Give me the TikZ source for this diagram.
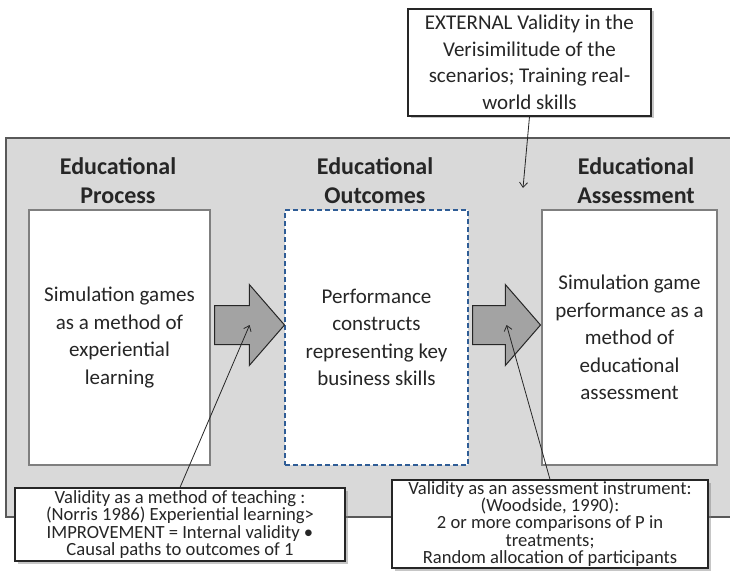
\documentclass[tikz,border=0pt]{standalone}
\usepackage{fontspec}
\setmainfont{Carlito}
\usepackage{xcolor}
\usetikzlibrary{calc, arrows.meta, shapes.arrows, shadows}

\definecolor{panelgray}{HTML}{D9D9D9}
\definecolor{rimgray}{HTML}{595959}
\definecolor{boxgray}{HTML}{7F7F7F}
\definecolor{dashblue}{HTML}{2F5D96}
\definecolor{flowgray}{HTML}{A3A3A3}
\definecolor{inkgray}{HTML}{262626}

\begin{document}
\begin{tikzpicture}[x=1pt, y=-1pt, text=inkgray,
    stage/.style={draw=boxgray, fill=white, line width=1.1pt, minimum height=255pt, align=center,
      font=\fontsize{21}{27.5}\selectfont},
    stagehead/.style={align=center, font=\fontsize{24}{29}\selectfont\bfseries},
    flow/.style={single arrow, draw=inkgray, fill=flowgray, line width=1pt, inner xsep=0pt, inner ysep=19pt,
      single arrow head extend=21pt, single arrow tip angle=98, anchor=tail},
    note/.style={draw=inkgray, fill=white, line width=1.1pt, align=center, inner sep=0pt,
      drop shadow={shadow xshift=2.5pt, shadow yshift=-2.5pt, opacity=0.45}},
    lead/.style={draw=inkgray, line width=0.8pt, -{Straight Barb[length=5pt, width=8pt]}}]
    \useasboundingbox (0,0) rectangle (730,572);

    % grey panel, open on the right
    \fill[panelgray] (6,138) rectangle (730,517);
    \draw[rimgray, line width=1.4pt] (730,138) -- (6,138) -- (6,517) -- (730,517);

    % the three stages
    \node[stagehead] (hproc) at (118,181) {Educational\\Process};
    \node[stagehead] (hout)  at (375,181) {Educational\\Outcomes};
    \node[stagehead] (hass)  at (636,181) {Educational\\Assessment};

    \node[stage, minimum width=181pt] (proc) at (119.5,337.5) {Simulation games\\as a method of\\experiential\\learning};
    \node[stage, minimum width=183pt, draw=dashblue, dash pattern=on 5pt off 3pt] (outc) at (376.5,337.5)
      {Performance\\constructs\\representing key\\business skills};
    \node[stage, minimum width=175pt] (asse) at (629.5,337.5) {Simulation game\\performance as a\\method of\\educational\\assessment};

    \node[flow, minimum height=70pt] (flowA) at (214,325) {};
    \node[flow, minimum height=68pt] (flowB) at (472,325) {};

    % validity notes
    \node[note, minimum width=243pt, minimum height=107pt, font=\fontsize{21}{26.5}\selectfont] (ext) at (529.5,62.5)
      {EXTERNAL Validity in the\\Verisimilitude of the\\scenarios; Training real-\\world skills};
    \node[note, minimum width=330pt, minimum height=73pt, font=\fontsize{18.6}{17.5}\selectfont] (teach) at (180,524.5)
      {Validity as a method of teaching :\\(Norris 1986) Experiential learning>\\IMPROVEMENT = Internal validity •\\Causal paths to outcomes of 1};
    \node[note, minimum width=316pt, minimum height=88pt, font=\fontsize{18.6}{17.3}\selectfont] (instr) at (550,524)
      {Validity as an assessment instrument:\\(Woodside, 1990):\\2 or more comparisons of P in\\treatments;\\Random allocation of participants};

    \coordinate (extend) at (523,188);
    \draw[lead] (ext.south) -- (extend);
    \draw[lead] (teach.north) -- ($(flowA.tail)!0.5!(flowA.tip)$);
    \draw[lead] (instr.north) -- ($(flowB.tail)!0.5!(flowB.tip)$);
  \end{tikzpicture}
\end{document}
